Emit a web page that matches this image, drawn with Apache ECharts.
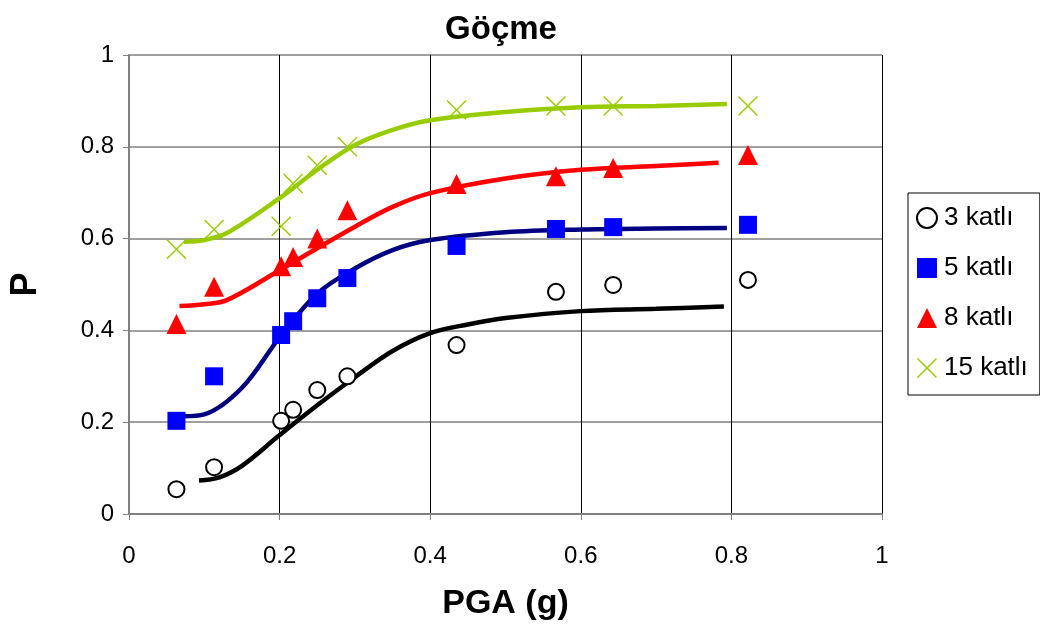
<!DOCTYPE html>
<html>
<head>
<meta charset="utf-8">
<script src="https://cdn.jsdelivr.net/npm/echarts@6/dist/echarts.min.js"></script>
<style>
  html, body { margin: 0; padding: 0; background: #fff; }
  #chart { width: 1040px; height: 626px; }
</style>
</head>
<body>
<div id="chart"></div>
<script>
// measured points (PGA, P)
const pga = [0.063, 0.113, 0.202, 0.218, 0.25, 0.29, 0.435, 0.567, 0.643, 0.822];
const p3 = [0.054, 0.102, 0.203, 0.227, 0.27, 0.30, 0.368, 0.484, 0.499, 0.51];
const p5 = [0.203, 0.30, 0.39, 0.42, 0.47, 0.514, 0.584, 0.621, 0.625, 0.63];
const p8 = [0.414, 0.495, 0.54, 0.56, 0.60, 0.662, 0.719, 0.736, 0.754, 0.782];
const p15 = [0.577, 0.62, 0.627, 0.72, 0.76, 0.80, 0.88, 0.889, 0.889, 0.889];

// fitted curves
const fit3X = [0.093, 0.12, 0.15, 0.2, 0.25, 0.3, 0.35, 0.4, 0.45, 0.5, 0.6, 0.7, 0.79];
const fit3Y = [0.073, 0.08, 0.105, 0.172, 0.237, 0.298, 0.355, 0.394, 0.413, 0.427, 0.442, 0.447, 0.452];
const fit5X = [0.073, 0.1, 0.15, 0.2, 0.25, 0.3, 0.35, 0.4, 0.5, 0.6, 0.7, 0.794];
const fit5Y = [0.213, 0.217, 0.275, 0.385, 0.48, 0.535, 0.575, 0.597, 0.614, 0.62, 0.622, 0.623];
const fit8X = [0.067, 0.1, 0.13, 0.2, 0.25, 0.3, 0.35, 0.4, 0.5, 0.6, 0.7, 0.783];
const fit8Y = [0.453, 0.457, 0.466, 0.531, 0.579, 0.626, 0.669, 0.699, 0.731, 0.75, 0.758, 0.765];
const fit15X = [0.073, 0.1, 0.13, 0.2, 0.25, 0.3, 0.35, 0.4, 0.5, 0.6, 0.7, 0.794];
const fit15Y = [0.593, 0.597, 0.612, 0.688, 0.75, 0.804, 0.837, 0.858, 0.876, 0.886, 0.889, 0.893];

const names = ['3 katlı', '5 katlı', '8 katlı', '15 katlı'];

function zip(xs, ys) {
    return xs.map(function (x, i) { return [x, ys[i]]; });
}

const crossPath = 'path://M0,1 L1,0 L10,9 L19,0 L20,1 L11,10 L20,19 L19,20 L10,11 L1,20 L0,19 L9,10 Z';

function fitLine(xs, ys, color) {
    return {
        type: 'line',
        data: zip(xs, ys),
        smooth: 0.35,
        showSymbol: false,
        silent: true,
        lineStyle: { color: color, width: 4.5 },
        z: 2
    };
}

const chart = echarts.init(document.getElementById('chart'));
chart.setOption({
    animation: false,
    title: {
        text: 'Göçme',
        left: 496,
        top: 8,
        textAlign: 'center',
        textStyle: { fontFamily: 'Liberation Sans', fontWeight: 'bold', fontSize: 33, color: '#000' }
    },
    grid: { left: 128, right: 158, top: 55, bottom: 112 },
    legend: {
        orient: 'vertical',
        left: 908,
        top: 193,
        itemGap: 20,
        itemWidth: 20,
        itemHeight: 20,
        padding: [10, 12, 12, 8],
        borderColor: '#000',
        borderWidth: 1,
        textStyle: { fontFamily: 'Liberation Sans', fontSize: 26, lineHeight: 30, color: '#000', padding: [0, 0, 0, 2] },
        data: names
    },
    xAxis: {
        type: 'value',
        min: 0, max: 1, interval: 0.2,
        name: 'PGA (g)',
        nameLocation: 'middle',
        nameGap: 73,
        nameTextStyle: { fontFamily: 'Liberation Sans', fontWeight: 'bold', fontSize: 34, color: '#000' },
        axisLine: { lineStyle: { color: '#808080', width: 2 } },
        axisTick: { show: true, length: 6, lineStyle: { color: '#808080' } },
        axisLabel: { fontFamily: 'Liberation Sans', fontSize: 24, color: '#000', margin: 30 },
        splitLine: { show: true, lineStyle: { color: '#000', width: 1 } }
    },
    yAxis: {
        type: 'value',
        min: 0, max: 1, interval: 0.2,
        name: 'P',
        nameLocation: 'middle',
        nameGap: 85,
        nameTextStyle: { fontFamily: 'Liberation Sans', fontWeight: 'bold', fontSize: 36, color: '#000' },
        axisLine: { show: true, lineStyle: { color: '#808080', width: 2 } },
        axisTick: { show: true, length: 6, lineStyle: { color: '#808080' } },
        axisLabel: { fontFamily: 'Liberation Sans', fontSize: 24, color: '#000', margin: 15 },
        splitLine: { show: true, lineStyle: { color: '#808080', width: 1.5 } }
    },
    series: [
        fitLine(fit3X, fit3Y, '#000000'),
        fitLine(fit5X, fit5Y, '#000080'),
        fitLine(fit8X, fit8Y, '#ff0000'),
        fitLine(fit15X, fit15Y, '#99cc00'),
        {
            name: names[0], type: 'scatter', data: zip(pga, p3),
            symbol: 'circle', symbolSize: 16, z: 3,
            itemStyle: { color: '#fff', borderColor: '#000', borderWidth: 2, opacity: 1 }
        },
        {
            name: names[1], type: 'scatter', data: zip(pga, p5),
            symbol: 'rect', symbolSize: 18, z: 3,
            itemStyle: { color: '#0000ff', opacity: 1 }
        },
        {
            name: names[2], type: 'scatter', data: zip(pga, p8),
            symbol: 'triangle', symbolSize: 20, z: 3,
            itemStyle: { color: '#ff0000', opacity: 1 }
        },
        {
            name: names[3], type: 'scatter', data: zip(pga, p15),
            symbol: crossPath, symbolSize: 20, z: 3,
            itemStyle: { color: '#99cc00', opacity: 1 }
        }
    ]
});
</script>
</body>
</html>
